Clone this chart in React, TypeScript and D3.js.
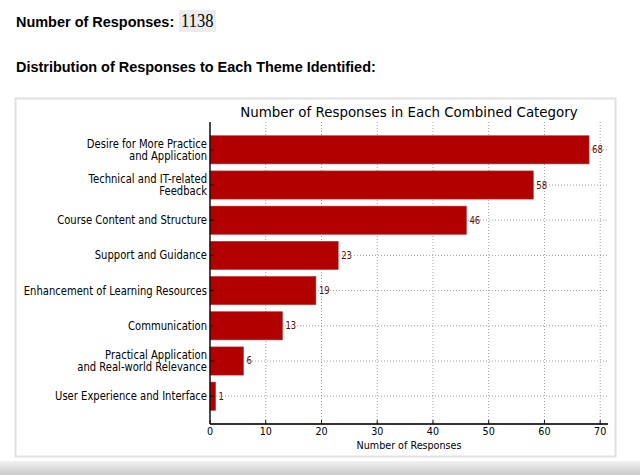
import React from "react";
import * as d3 from "d3";

const categories: string[][] = [
  ["Desire for More Practice", "and Application"],
  ["Technical and IT-related", "Feedback"],
  ["Course Content and Structure"],
  ["Support and Guidance"],
  ["Enhancement of Learning Resources"],
  ["Communication"],
  ["Practical Application", "and Real-world Relevance"],
  ["User Experience and Interface"],
];
const counts: number[] = [68, 58, 46, 23, 19, 13, 6, 1];
const xTicks: number[] = [0, 10, 20, 30, 40, 50, 60, 70];

const totalResponses = "1138";
const chartTitle = "Number of Responses in Each Combined Category";
const xLabel = "Number of Responses";

const SX = 0.85;
const FONT = "'DejaVu Sans', sans-serif";

function T(props: {
  x: number;
  y: number;
  anchor?: "start" | "middle" | "end";
  size: number;
  fill?: string;
  weight?: string | number;
  family?: string;
  sx?: number;
  children: React.ReactNode;
}) {
  const { x, y, anchor = "start", size, fill = "#000", weight = "normal", family = FONT, sx = SX, children } = props;
  return (
    <text
      transform={`translate(${x},${y}) scale(${sx},1)`}
      textAnchor={anchor}
      fontSize={size}
      fill={fill}
      fontWeight={weight}
      fontFamily={family}
    >
      {children}
    </text>
  );
}

export default function App() {
  const W = 640;
  const H = 475;
  const left = 210;
  const right = 608;
  const top = 122;
  const bottom = 424;
  const xMax = d3.max(counts)! * 1.05;
  const x = d3.scaleLinear().domain([0, xMax]).range([left, right]);
  const n = categories.length;
  const pad = 0.05 * (n - 1 + 0.8);
  const y = d3.scaleLinear().domain([-0.4 - pad, n - 1 + 0.4 + pad]).range([top, bottom]);
  const barH = y(0.8) - y(0);
  const barColor = "#b20000";

  return (
    <svg width={W} height={H} style={{ position: "absolute", left: 0, top: 0, background: "#fff" }}>
      <defs>
        <linearGradient id="bottomShade" x1="0" y1="0" x2="0" y2="1">
          <stop offset="0" stopColor="#f2f2f2" />
          <stop offset="1" stopColor="#c9c9c9" />
        </linearGradient>
      </defs>
      <rect x={0} y={0} width={W} height={H} fill="#fff" />
      {/* header */}
      <T x={16} y={27} size={15} weight="bold" family="'Liberation Sans', Arial, sans-serif" sx={0.965}>
        Number of Responses:
      </T>
      <rect x={179} y={10} width={37} height={22} fill="#ececec" />
      <T x={181} y={27} size={18} family="'Liberation Serif', 'Times New Roman', serif" sx={0.92}>
        {totalResponses}
      </T>
      <T x={16} y={72} size={15} weight="bold" family="'Liberation Sans', Arial, sans-serif" sx={0.965}>
        Distribution of Responses to Each Theme Identified:
      </T>

      {/* panel */}
      <rect x={15.5} y={98.5} width={600} height={358} fill="#fff" stroke="#e0e0e0" strokeWidth={2} />
      <rect x={0} y={461} width={W} height={H - 461} fill="url(#bottomShade)" />

      {/* title */}
      <T x={(left + right) / 2} y={117} anchor="middle" size={14.8} sx={0.905}>
        {chartTitle}
      </T>

      {/* grid */}
      {xTicks.filter((t) => t > 0).map((t) => (
        <line key={"vg" + t} x1={x(t)} x2={x(t)} y1={top} y2={bottom} stroke="#8a8a8a" strokeWidth={0.8} strokeDasharray="1,2" />
      ))}
      {counts.map((_, i) => (
        <line key={"hg" + i} x1={left} x2={right} y1={y(i)} y2={y(i)} stroke="#8a8a8a" strokeWidth={0.8} strokeDasharray="1,2" />
      ))}

      {/* bars */}
      {counts.map((v, i) => (
        <rect key={"b" + i} x={x(0)} y={y(i) - barH / 2} width={x(v) - x(0)} height={barH} fill={barColor} stroke="#c23030" strokeWidth={0.6} />
      ))}

      {/* value labels */}
      {counts.map((v, i) => (
        <T key={"vl" + i} x={x(v) + 3} y={y(i) + 3.5} size={10} fill="#5a0a0a">
          {String(v)}
        </T>
      ))}

      {/* spines */}
      <line x1={left} x2={left} y1={top} y2={bottom} stroke="#111" strokeWidth={1.5} />
      <line x1={left} x2={right} y1={bottom} y2={bottom} stroke="#333" strokeWidth={2} />

      {/* ticks */}
      {xTicks.map((t) => (
        <line key={"xt" + t} x1={x(t)} x2={x(t)} y1={bottom} y2={bottom - 4} stroke="#111" strokeWidth={1} />
      ))}
      {counts.map((_, i) => (
        <line key={"yt" + i} x1={left} x2={left + 4} y1={y(i)} y2={y(i)} stroke="#111" strokeWidth={1} />
      ))}

      {/* x tick labels */}
      {xTicks.map((t) => (
        <T key={"xl" + t} x={x(t)} y={434.5} anchor="middle" size={11.3}>
          {String(t)}
        </T>
      ))}
      <T x={(left + right) / 2} y={448.5} anchor="middle" size={11.3}>
        {xLabel}
      </T>

      {/* y tick labels */}
      {categories.map((lines, i) =>
        lines.map((ln, j) => {
          const off = (j - (lines.length - 1) / 2) * 12.5;
          return (
            <T key={"yl" + i + "-" + j} x={207} y={y(i) + off + 4} anchor="end" size={11.8}>
              {ln}
            </T>
          );
        })
      )}
    </svg>
  );
}
